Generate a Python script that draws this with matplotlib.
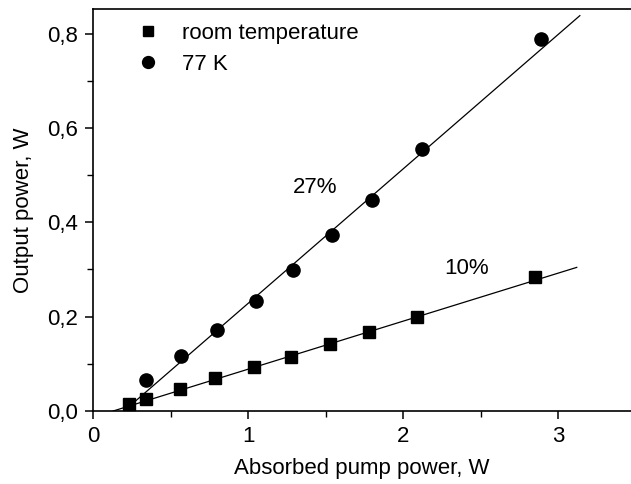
import matplotlib
matplotlib.use("Agg")
import matplotlib.pyplot as plt
import numpy as np
from matplotlib.ticker import MultipleLocator, FuncFormatter

plt.rcParams['font.family'] = ['Liberation Sans', 'DejaVu Sans']

# Room temperature data (absorbed pump power W, output power W)
rt_x = [0.23, 0.34, 0.56, 0.79, 1.04, 1.28, 1.53, 1.78, 2.09, 2.85]
rt_y = [0.014, 0.025, 0.047, 0.069, 0.093, 0.115, 0.141, 0.167, 0.200, 0.285]

# 77 K data
lk_x = [0.34, 0.57, 0.80, 1.05, 1.29, 1.54, 1.80, 2.12, 2.89]
lk_y = [0.065, 0.117, 0.172, 0.233, 0.299, 0.374, 0.447, 0.555, 0.789]

# Linear fits: slope, threshold and end of drawn range
rt_slope, rt_thr, rt_end = 0.1018, 0.13, 3.12
lk_slope, lk_thr, lk_end = 0.285, 0.20, 3.14

fig = plt.figure(figsize=(6.31, 4.84), dpi=100)
ax = fig.add_axes([93 / 631, 73 / 484, 538 / 631, 402 / 484])

# fit lines
xf = np.array([rt_thr, rt_end])
ax.plot(xf, rt_slope * (xf - rt_thr), color='black', lw=0.9)
xf = np.array([lk_thr, lk_end])
ax.plot(xf, lk_slope * (xf - lk_thr), color='black', lw=0.9)

ax.plot(rt_x, rt_y, 's', color='black', ms=8.5, ls='none', label='room temperature')
ax.plot(lk_x, lk_y, 'o', color='black', ms=9.5, ls='none', label='77 K')

ax.text(1.43, 0.473, '27%', fontsize=16, ha='center', va='center')
ax.text(2.41, 0.301, '10%', fontsize=16, ha='center', va='center')

ax.set_xlim(0, 3.47)
ax.set_ylim(0, 0.852)
ax.xaxis.set_major_locator(MultipleLocator(1))
ax.xaxis.set_minor_locator(MultipleLocator(0.5))
ax.yaxis.set_major_locator(MultipleLocator(0.2))
ax.yaxis.set_minor_locator(MultipleLocator(0.1))
ax.yaxis.set_major_formatter(FuncFormatter(lambda v, p: ('%.1f' % v).replace('.', ',')))
ax.tick_params(which='major', direction='out', length=6, width=1.1, labelsize=16, pad=5)
ax.tick_params(which='minor', direction='out', length=4, width=1.0)
ax.spines['right'].set_visible(False)
for s in ['left', 'bottom', 'top']:
    ax.spines[s].set_linewidth(1.2)

ax.set_xlabel('Absorbed pump power, W', fontsize=16, labelpad=8)
ax.set_ylabel('Output power, W', fontsize=16, labelpad=9)

ax.legend(loc='upper left', bbox_to_anchor=(0.045, 1.015), frameon=False, fontsize=16,
          handlelength=1.0, handletextpad=1.0, labelspacing=0.45, markerscale=0.9)

plt.savefig('out.png', dpi=100)
